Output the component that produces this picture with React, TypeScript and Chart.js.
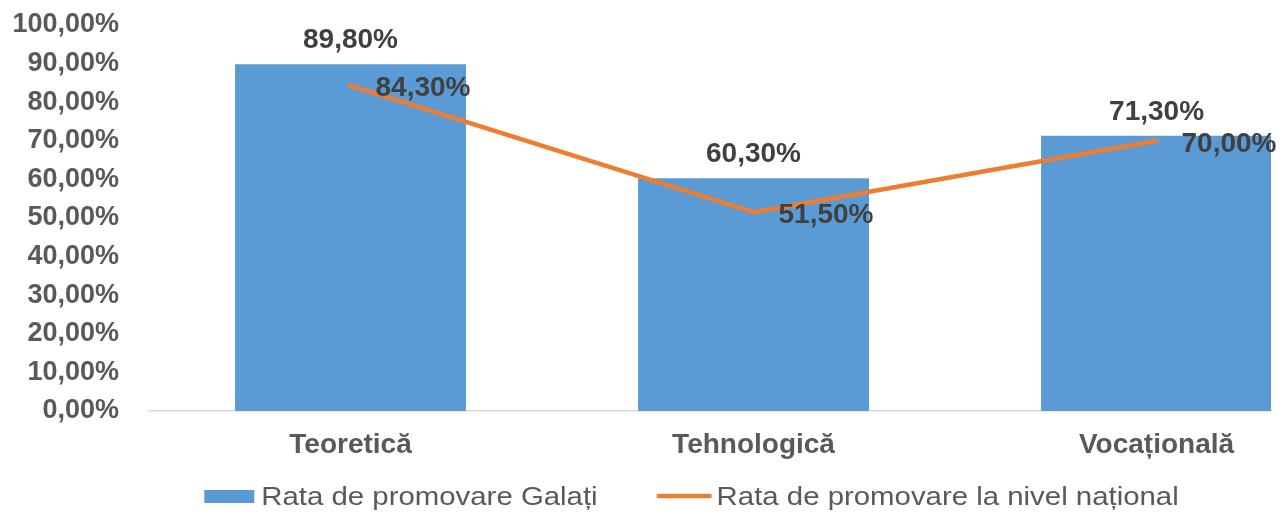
import React, { useEffect, useRef } from "react";
import { Chart, registerables } from "chart.js";

Chart.register(...registerables);

const categories = ["Teoretică", "Tehnologică", "Vocațională"];
const galatiRates = [89.8, 60.3, 71.3];
const nationalRates = [84.3, 51.5, 70.0];
const seriesLabels = ["Rata de promovare Galați", "Rata de promovare la nivel național"];
const yTickValues = [0, 10, 20, 30, 40, 50, 60, 70, 80, 90, 100];

const FONT = '"Liberation Sans", Arial, Helvetica, sans-serif';
const BAR_COLOR = "#5B9BD5";
const LINE_COLOR = "#ED7D31";
const TICK_COLOR = "#595959";
const LABEL_COLOR = "#404040";

const fmt = (v: number) => v.toFixed(2).replace(".", ",") + "%";

const valueLabels = {
  id: "valueLabels",
  afterDatasetsDraw(chart: any) {
    const ctx = chart.ctx;
    ctx.save();
    ctx.font = `bold 28px ${FONT}`;
    ctx.fillStyle = LABEL_COLOR;
    ctx.textBaseline = "middle";
    ctx.textAlign = "center";
    chart.getDatasetMeta(0).data.forEach((el: any, i: number) => {
      ctx.fillText(fmt(galatiRates[i]), el.x, el.y - 24);
    });
    ctx.textAlign = "left";
    chart.getDatasetMeta(1).data.forEach((el: any, i: number) => {
      ctx.fillText(fmt(nationalRates[i]), el.x + 25, el.y + 3);
    });
    ctx.restore();
  },
};

const customLegend = {
  id: "customLegend",
  afterDraw(chart: any) {
    const ctx = chart.ctx;
    const stretch = 1.175;
    ctx.save();
    ctx.font = `25px ${FONT}`;
    ctx.textBaseline = "alphabetic";
    ctx.textAlign = "left";
    const w1 = ctx.measureText(seriesLabels[0]).width * stretch;
    const w2 = ctx.measureText(seriesLabels[1]).width * stretch;
    const boxW = 50, boxH = 13, lineW = 55, gapText = 7, gapItems = 59, gapLine = 5;
    const total = boxW + gapText + w1 + gapItems + lineW + gapLine + w2;
    const center = 683.5;
    const yMid = chart.height - 18;
    const yBase = chart.height - 9;
    let x = center - total / 2;
    ctx.fillStyle = BAR_COLOR;
    ctx.fillRect(x, yMid - boxH / 2 + 0.5, boxW, boxH);
    x += boxW + gapText;
    const drawText = (t: string, tx: number) => {
      ctx.save();
      ctx.translate(tx, yBase);
      ctx.scale(stretch, 1);
      ctx.fillStyle = TICK_COLOR;
      ctx.fillText(t, 0, 0);
      ctx.restore();
    };
    drawText(seriesLabels[0], x);
    x += w1 + gapItems;
    ctx.strokeStyle = LINE_COLOR;
    ctx.lineWidth = 4.5;
    ctx.lineCap = "round";
    ctx.beginPath();
    ctx.moveTo(x + 2, yMid);
    ctx.lineTo(x + lineW - 2, yMid);
    ctx.stroke();
    x += lineW + gapLine;
    drawText(seriesLabels[1], x);
    ctx.restore();
  },
};

export default function App() {
  const canvasRef = useRef<HTMLCanvasElement | null>(null);

  useEffect(() => {
    document.documentElement.style.overflow = "hidden";
    const canvas = canvasRef.current;
    if (!canvas) return;
    const chart = new Chart(canvas, {
      type: "bar",
      data: {
        datasets: [
          {
            type: "bar",
            label: seriesLabels[0],
            data: galatiRates.map((v, i) => ({ x: i, y: v })),
            backgroundColor: BAR_COLOR,
            borderWidth: 0,
            categoryPercentage: 1,
            barPercentage: 0.573,
            order: 2,
          },
          {
            type: "line",
            label: seriesLabels[1],
            data: nationalRates.map((v, i) => ({ x: i, y: v })),
            borderColor: LINE_COLOR,
            backgroundColor: LINE_COLOR,
            borderWidth: 4.5,
            borderCapStyle: "round",
            borderJoinStyle: "round",
            pointRadius: 0,
            tension: 0,
            fill: false,
            order: 1,
          } as any,
        ],
      },
      options: {
        animation: false,
        responsive: true,
        maintainAspectRatio: false,
        layout: { padding: { top: 17, right: 5, bottom: 53, left: 0 } },
        plugins: {
          legend: { display: false },
          tooltip: { enabled: false },
        },
        scales: {
          x: {
            type: "linear",
            offset: false,
            min: -0.5,
            max: 2.284,
            afterBuildTicks: (scale: any) => {
              scale.ticks = categories.map((_, i) => ({ value: i }));
            },
            afterFit: (scale: any) => {
              scale.height = 50;
            },
            grid: { display: true, drawOnChartArea: false, drawTicks: false },
            border: { display: true, color: "#D9D9D9", width: 1.5 },
            ticks: {
              padding: 17,
              color: TICK_COLOR,
              font: { family: FONT, size: 28, weight: "bold" },
              maxRotation: 0,
              autoSkip: false,
              callback: (v: any) => categories[Number(v)] ?? "",
            },
          },
          y: {
            min: 0,
            max: 100,
            afterBuildTicks: (scale: any) => {
              scale.ticks = yTickValues.map((v) => ({ value: v }));
            },
            afterFit: (scale: any) => {
              scale.width = 141;
              scale.paddingTop = 0;
              scale.paddingBottom = 0;
            },
            grid: { display: false, drawTicks: false },
            border: { display: false },
            ticks: {
              padding: 30,
              color: TICK_COLOR,
              font: { family: FONT, size: 27, weight: "bold" },
              callback: (v: any) => fmt(Number(v)),
            },
          },
        },
      },
      plugins: [valueLabels, customLegend],
    } as any);
    return () => chart.destroy();
  }, []);

  return (
    <div style={{ width: "100%", height: 506, position: "relative" }}>
      <canvas ref={canvasRef} />
    </div>
  );
}
